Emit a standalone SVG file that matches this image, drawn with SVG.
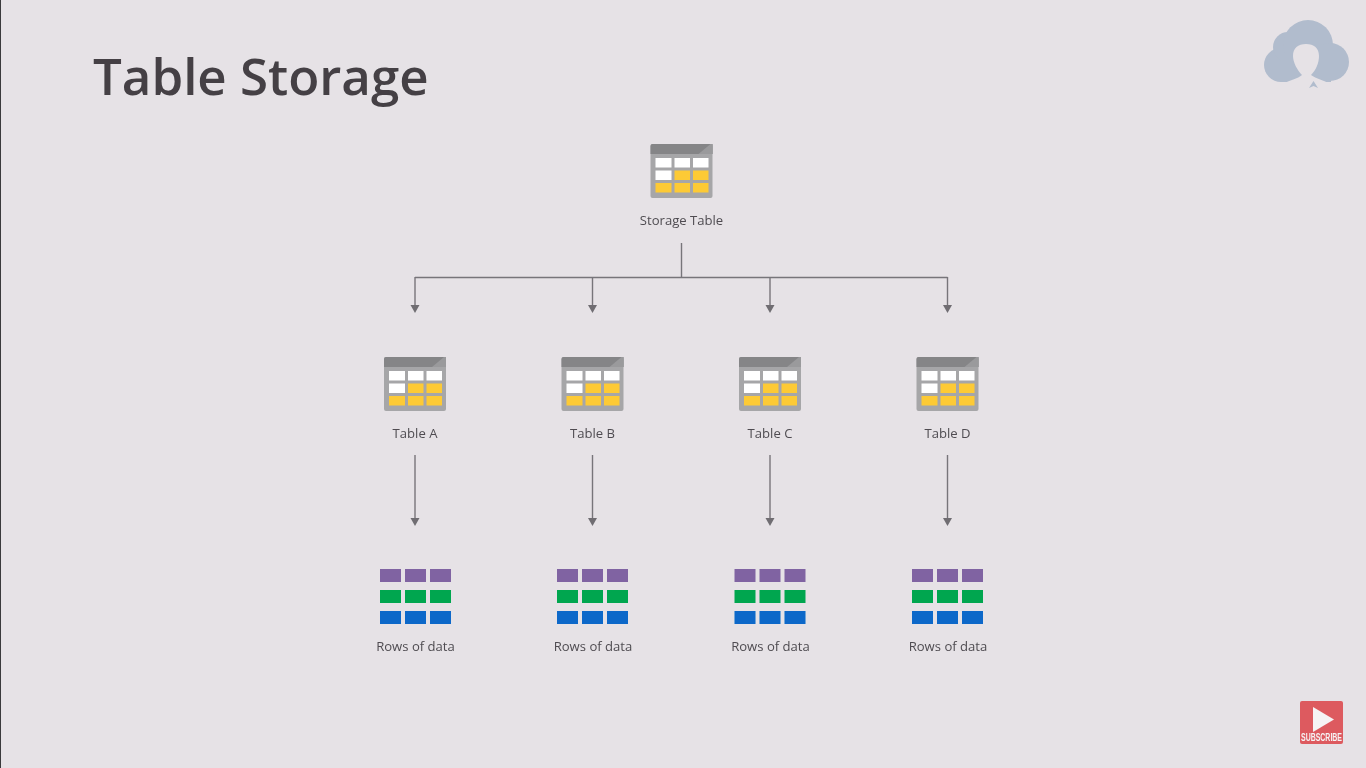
<svg xmlns="http://www.w3.org/2000/svg" width="1366" height="768" viewBox="0 0 1366 768">
<style>
.lbl{font-family:"Open Sans","Noto Sans",sans-serif;font-size:13.1px;fill:#4f4c51;text-anchor:middle}
.conn{fill:none;stroke:#77757a;stroke-width:1.4}
.w{fill:#fff}.y{fill:#fdca35}
.p{fill:#8064a2}.g{fill:#00a650}.b{fill:#0a68c9}
.c{fill:#b1bccd}.f{fill:#e6e2e6}
</style>
<defs>
<filter id="soft" x="0" y="0" width="100%" height="100%"><feGaussianBlur stdDeviation="0.45"/></filter>
<marker id="arrow" markerUnits="userSpaceOnUse" markerWidth="9" markerHeight="10" refX="0" refY="5" orient="auto" viewBox="0 0 9 10"><path d="M0 0.500L8 5L0 9.500Z" fill="#6f6d72"/></marker>
<g id="tableIcon">
<rect width="62" height="54" rx="2" fill="#a6a6a8"/>
<path d="M2 0H62V10H0V2A2 2 0 0 1 2 0Z" fill="#858587"/>
<path d="M48 10L60 0H62V10Z" fill="#9a9a9c"/>
<rect class="w" x="5" y="14" width="16" height="9.500"/><rect class="w" x="24" y="14" width="15.500" height="9.500"/><rect class="w" x="42.500" y="14" width="15.500" height="9.500"/>
<rect class="w" x="5" y="26.500" width="16" height="9.500"/><rect class="y" x="24" y="26.500" width="15.500" height="9.500"/><rect class="y" x="42.500" y="26.500" width="15.500" height="9.500"/>
<rect class="y" x="5" y="39" width="16" height="9.500"/><rect class="y" x="24" y="39" width="15.500" height="9.500"/><rect class="y" x="42.500" y="39" width="15.500" height="9.500"/>
</g>
<g id="rowsIcon">
<rect class="p" x="0" y="0" width="21" height="13"/><rect class="p" x="25" y="0" width="21" height="13"/><rect class="p" x="50" y="0" width="21" height="13"/>
<rect class="g" x="0" y="21" width="21" height="13"/><rect class="g" x="25" y="21" width="21" height="13"/><rect class="g" x="50" y="21" width="21" height="13"/>
<rect class="b" x="0" y="42" width="21" height="13"/><rect class="b" x="25" y="42" width="21" height="13"/><rect class="b" x="50" y="42" width="21" height="13"/>
</g>
</defs>
<rect width="1366" height="768" fill="#e6e2e6"/>
<rect width="1" height="768" fill="#3a3a3c"/>
<g filter="url(#soft)">
<text id="title" x="93" y="95" font-family="'Open Sans','Noto Sans',sans-serif" font-size="51" font-weight="600" fill="#444145">Table Storage</text>

<g id="connectors" class="conn">
<path d="M681.500 243V277.500"/>
<path d="M415 277.500H947.500"/>
<path d="M415 277V305" marker-end="url(#arrow)"/>
<path d="M592.500 277.500V305" marker-end="url(#arrow)"/>
<path d="M770 277.500V305" marker-end="url(#arrow)"/>
<path d="M947.500 277V305" marker-end="url(#arrow)"/>
<path d="M415 455V518" marker-end="url(#arrow)"/>
<path d="M592.500 455V518" marker-end="url(#arrow)"/>
<path d="M770 455V518" marker-end="url(#arrow)"/>
<path d="M947.500 455V518" marker-end="url(#arrow)"/>
</g>

<g id="storage-table"><use href="#tableIcon" x="650.500" y="144"/><text class="lbl" x="681.500" y="225">Storage Table</text></g>
<g id="table-a"><use href="#tableIcon" x="384" y="357"/><text class="lbl" x="415" y="438">Table A</text></g>
<g id="table-b"><use href="#tableIcon" x="561.500" y="357"/><text class="lbl" x="592.500" y="438">Table B</text></g>
<g id="table-c"><use href="#tableIcon" x="739" y="357"/><text class="lbl" x="770" y="438">Table C</text></g>
<g id="table-d"><use href="#tableIcon" x="916.500" y="357"/><text class="lbl" x="947.500" y="438">Table D</text></g>
<g id="rows-a"><use href="#rowsIcon" x="380" y="569"/><text class="lbl" x="415.500" y="651">Rows of data</text></g>
<g id="rows-b"><use href="#rowsIcon" x="557" y="569"/><text class="lbl" x="593" y="651">Rows of data</text></g>
<g id="rows-c"><use href="#rowsIcon" x="734.500" y="569"/><text class="lbl" x="770.500" y="651">Rows of data</text></g>
<g id="rows-d"><use href="#rowsIcon" x="912" y="569"/><text class="lbl" x="948" y="651">Rows of data</text></g>

<g id="logo">
<circle class="c" cx="1281" cy="65" r="17"/>
<circle class="c" cx="1288" cy="47" r="15"/>
<circle class="c" cx="1308" cy="45" r="25"/>
<circle class="c" cx="1330" cy="62" r="19"/>
<rect class="c" x="1281" y="55" width="50" height="27"/>
<path class="f" d="M1283 84C1289 80 1298 79 1302 75C1297 70 1293 62 1293 56C1293 48 1298 44 1306 44C1314 44 1319 48 1319 56C1319 63 1316 70 1311 75C1316 79 1324 80 1330 84Z"/>
<path class="c" d="M1309 88L1313.500 81L1318 88L1313.500 86Z"/>
</g>
<g id="subscribe">
<rect x="1300" y="701" width="43" height="43" rx="2" fill="#dd5a5f"/>
<path d="M1313 707L1334 719.500L1313 732Z" fill="#f6f3f4"/>
<text x="1321.500" y="741" font-family="'Liberation Sans',Arial,sans-serif" font-size="10.500" font-weight="700" fill="#f6f3f4" text-anchor="middle" textLength="41" lengthAdjust="spacingAndGlyphs">SUBSCRIBE</text>
</g>
</g>
</svg>
